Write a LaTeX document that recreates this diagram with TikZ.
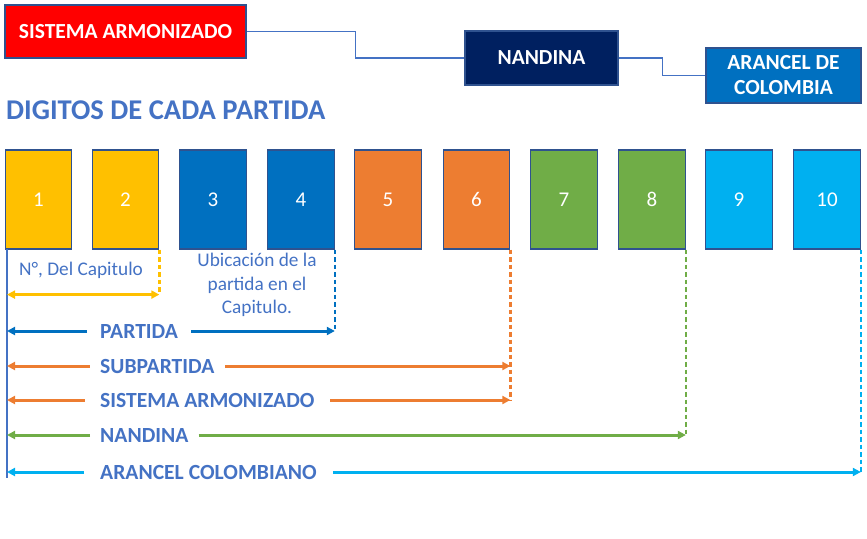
\documentclass[tikz,border=0pt]{standalone}
\usepackage{fontspec}
\setmainfont{Carlito}
\usetikzlibrary{arrows.meta}
\definecolor{lineblue}{HTML}{4472C4}
\definecolor{bordblue}{HTML}{2F528F}
\definecolor{cyel}{HTML}{FFC000}
\definecolor{cblue}{HTML}{0070C0}
\definecolor{corange}{HTML}{ED7D31}
\definecolor{cgreen}{HTML}{70AD47}
\definecolor{clight}{HTML}{00B0F0}
\definecolor{cnavy}{HTML}{002060}
\definecolor{cred}{HTML}{FF0000}
\tikzset{
  topbox/.style={draw=bordblue, line width=1.3pt, text=white, font=\fontsize{21.5}{25}\bfseries\selectfont, align=center, inner sep=0pt},
  digbox/.style={draw=bordblue, line width=1.2pt, text=white, font=\fontsize{21}{24}\selectfont, minimum width=66.5pt, minimum height=99pt, inner sep=0pt, text height=13.5pt, text depth=0pt},
  conn/.style={draw=lineblue, line width=1.4pt},
  dashline/.style={line width=2.6pt, dash pattern=on 4.5pt off 3pt},
  dimarrow/.style={line width=3pt, -{Triangle[length=8pt,width=8pt]}},
  dimlabel/.style={text=lineblue, font=\fontsize{21.6}{25}\bfseries\selectfont, anchor=west, inner ysep=0pt},
  note/.style={text=lineblue, font=\fontsize{19.3}{23.5}\selectfont, align=center, inner sep=0pt}
}
\begin{document}
\begin{tikzpicture}[x=1pt,y=-1pt]
\useasboundingbox (0,0) rectangle (867,538);
% top boxes
\node[topbox, fill=cred, minimum width=241pt, minimum height=53pt] (sa) at (125.5,31.5) {SISTEMA ARMONIZADO};
\node[topbox, fill=cnavy, minimum width=153pt, minimum height=54pt] (nan) at (541.5,58) {NANDINA};
\node[topbox, fill=cblue, minimum width=155pt, minimum height=55pt] (arc) at (783.5,75.5) {ARANCEL DE\\[0pt]COLOMBIA};
\draw[conn] (sa.east) -- ++(109,0) |- (nan.west);
\draw[conn] (nan.east) -- ++(44,0) |- (arc.west);
% title
\node[anchor=west, text=lineblue, font=\fontsize{28.6}{32}\bfseries\selectfont, inner sep=0pt] (title) at (6,110) {DIGITOS DE CADA PARTIDA};
% digit boxes
\foreach \i/\xx/\c in {1/38.5/cyel,2/125.5/cyel,3/213/cblue,4/301/cblue,5/388/corange,6/476.5/corange,7/564/cgreen,8/652/cgreen,9/739/clight,10/827/clight}{
  \node[digbox, fill=\c] (d\i) at (\xx,199.5) {\i};
}
% left vertical line
\coordinate (ltop) at (7,249);
\coordinate (lbot) at (7,478);
\draw[lineblue, line width=1.1pt] (ltop) -- (lbot);
% dashed drops
\draw[cyel, dashline] (d2.south east) -- ++(0,45) coordinate (e2);
\draw[cblue, dashline] (d4.south east) -- ++(0,82) coordinate (e4);
\draw[corange, dashline] (d6.south east) -- ++(0,151) coordinate (e6);
\draw[cgreen, dashline] (d8.south east) -- ++(0,186) coordinate (e8);
\draw[clight, dashline] (d10.south east) -- ++(0,222) coordinate (e10);
% yellow dimension
\draw[cyel, line width=3pt, {Triangle[length=8pt,width=8pt]}-{Triangle[length=8pt,width=8pt]}] (ltop |- e2) -- (e2);
\node[note] (n1) at (81,270) {N°, Del Capitulo};
\node[note] (n2) at (257,285) {Ubicación de la\\partida en el\\Capitulo.};
% PARTIDA
\node[dimlabel, inner xsep=13pt] (lp) at (87,331) {PARTIDA};
\draw[cblue, dimarrow] (lp.west) -- (ltop |- lp.west);
\draw[cblue, dimarrow] (lp.east) -- (e4 |- lp.east);
% SUBPARTIDA
\node[dimlabel, inner xsep=10.5pt] (ls) at (89.5,366) {SUBPARTIDA};
\draw[corange, dimarrow] (ls.west) -- (ltop |- ls.west);
\draw[corange, dimarrow] (ls.east) -- (e6 |- ls.east);
% SISTEMA ARMONIZADO
\node[dimlabel, inner xsep=15.5pt] (lsa) at (84.5,400) {SISTEMA ARMONIZADO};
\draw[corange, dimarrow] (lsa.west) -- (ltop |- lsa.west);
\draw[corange, dimarrow] (lsa.east) -- (e6 |- lsa.east);
% NANDINA
\node[dimlabel, inner xsep=10pt] (ln) at (90,435) {NANDINA};
\draw[cgreen, dimarrow] (ln.west) -- (ltop |- ln.west);
\draw[cgreen, dimarrow] (ln.east) -- (e8 |- ln.east);
% ARANCEL COLOMBIANO
\node[dimlabel, inner xsep=16pt] (la) at (84,472) {ARANCEL COLOMBIANO};
\draw[clight, dimarrow] (la.west) -- (ltop |- la.west);
\draw[clight, dimarrow] (la.east) -- (e10 |- la.east);
\end{tikzpicture}
\end{document}
